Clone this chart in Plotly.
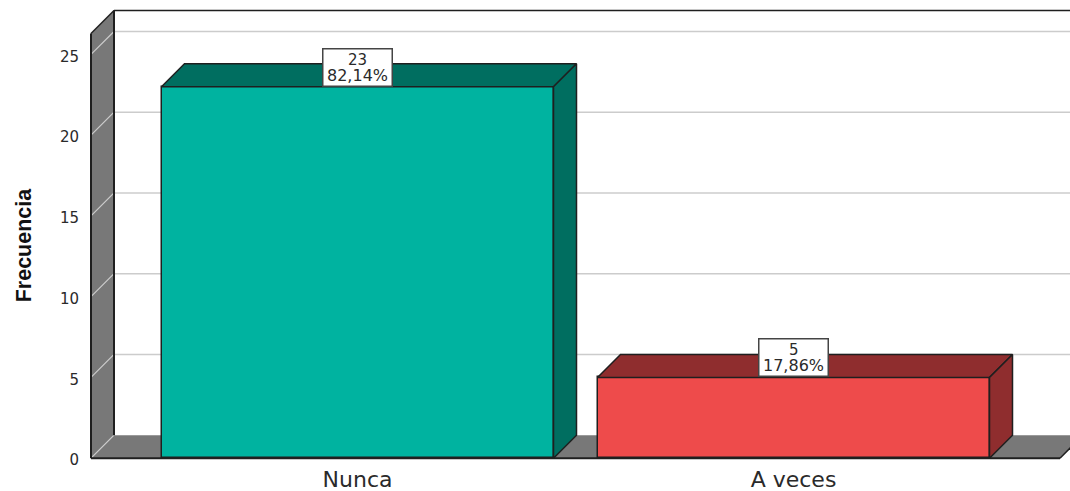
import plotly.graph_objects as go

categories = ["Nunca", "A veces"]
counts = [23, 5]
percent_labels = ["82,14%", "17,86%"]
y_ticks = [0, 5, 10, 15, 20, 25]
y_axis_title = "Frecuencia"

front_colors = ["#00B3A0", "#EE4B4B"]
side_colors = ["#006E60", "#8F2D2E"]
WALL = "#787878"
GRID = "#CCCCCC"
EDGE = "#1F1F1F"
TEXT = "#2A2A2A"

W, H = 1070, 491
unit_y = 16.16
unit_x = 436.0
base_px = 458.0
center0_px = 357.5
dx = 23 / unit_x
dy = 23 / unit_y
half = 196 / unit_x

# axis windows
y_lo, y_hi = -0.3, 28.0
plot_left = 84.0
x_lo = (plot_left - center0_px) / unit_x
x_hi = (W - center0_px) / unit_x
wall_x = (91 - center0_px) / unit_x
top_front = (base_px - 33) / unit_y
floor_end = (1060 - center0_px) / unit_x
m_top = base_px - y_hi * unit_y
m_bottom = H - (base_px - y_lo * unit_y)

def poly(xs, ys, fill, line=None, width=1.5):
    path = "M " + " L ".join(f"{a},{b}" for a, b in zip(xs, ys)) + " Z"
    return dict(type="path", path=path, xref="x", yref="y", layer="below",
                fillcolor=fill, line=dict(color=line or fill, width=width if line else 0))

def seg(x0, y0, x1, y1, color, width=1.5):
    return dict(type="line", x0=x0, y0=y0, x1=x1, y1=y1, xref="x", yref="y",
                layer="below", line=dict(color=color, width=width))

shapes = [
    # floor
    poly([wall_x, wall_x + dx, floor_end + dx, floor_end],
         [0, dy, dy, 0], WALL),
    # left wall
    poly([wall_x, wall_x + dx, wall_x + dx, wall_x],
         [0, dy, top_front + dy, top_front], WALL),
]
for t in y_ticks:
    shapes.append(seg(wall_x, t, wall_x + dx, t + dy, GRID, 1.2))
    if t > 0:
        shapes.append(seg(wall_x + dx, t + dy, x_hi, t + dy, GRID, 1.5))
shapes += [
    seg(wall_x, 0, wall_x, top_front, EDGE, 2),
    seg(wall_x + dx, dy, wall_x + dx, top_front + dy, EDGE, 2),
    seg(wall_x, top_front, wall_x + dx, top_front + dy, EDGE, 1.5),
    seg(wall_x + dx, top_front + dy, x_hi, top_front + dy, EDGE, 1.5),
    seg(wall_x, 0, floor_end, 0, EDGE, 2),
    seg(floor_end, 0, floor_end + dx, dy, EDGE, 1.5),
]

fig = go.Figure()
xs = list(range(len(categories)))
fig.add_trace(go.Bar(x=xs, y=counts, width=2 * half,
                     marker=dict(color=front_colors, line=dict(color=EDGE, width=1.5)),
                     hoverinfo="skip", showlegend=False))

for i, v in enumerate(counts):
    l, r = i - half, i + half
    fig.add_trace(go.Scatter(x=[l, l + dx, r + dx, r, l], y=[v, v + dy, v + dy, v, v],
                             mode="lines", fill="toself", fillcolor=side_colors[i],
                             line=dict(color=EDGE, width=1.5),
                             hoverinfo="skip", showlegend=False))
    fig.add_trace(go.Scatter(x=[r, r + dx, r + dx, r, r], y=[0, dy, v + dy, v, 0],
                             mode="lines", fill="toself", fillcolor=side_colors[i],
                             line=dict(color=EDGE, width=1.5),
                             hoverinfo="skip", showlegend=False))

annotations = []
for i, v in enumerate(counts):
    annotations.append(dict(x=i, y=v, xref="x", yref="y", text=" ", showarrow=False,
                            xanchor="center", yanchor="bottom", width=68, height=36, borderpad=0,
                            bgcolor="white", bordercolor="#444444", borderwidth=1.5,
                            font=dict(size=4), yshift=0))
    annotations.append(dict(x=i, y=v, xref="x", yref="y", text=str(v), showarrow=False,
                            xanchor="center", yanchor="bottom", yshift=16,
                            font=dict(family="DejaVu Sans", size=15, color=TEXT)))
    annotations.append(dict(x=i, y=v, xref="x", yref="y", text=percent_labels[i], showarrow=False,
                            xanchor="center", yanchor="bottom", yshift=0,
                            font=dict(family="DejaVu Sans", size=16, color=TEXT)))
plot_w = W - plot_left
plot_h = H - m_top - m_bottom
annotations.append(dict(x=(24 - plot_left) / plot_w, y=(H - m_bottom - 245) / plot_h,
                        xref="paper", yref="paper", text=f"<b>{y_axis_title}</b>",
                        showarrow=False, textangle=-90, xanchor="center", yanchor="middle",
                        font=dict(family="Liberation Sans", size=21.5, color="#111111")))

fig.update_layout(
    width=W, height=H, autosize=False,
    paper_bgcolor="white", plot_bgcolor="white",
    margin=dict(l=plot_left, r=0, t=m_top, b=m_bottom, pad=0, autoexpand=False),
    shapes=shapes, annotations=annotations, showlegend=False, bargap=0,
    xaxis=dict(range=[x_lo, x_hi], tickmode="array", tickvals=xs, ticktext=categories,
               automargin=False, ticklabelstandoff=-4,
               showgrid=False, zeroline=False, showline=False, ticks="outside", ticklen=1,
               tickcolor="white", tickfont=dict(family="DejaVu Sans", size=22, color=TEXT)),
    yaxis=dict(range=[y_lo, y_hi], tickmode="array", tickvals=y_ticks,
               automargin=False, ticklabelshift=2,
               showgrid=False, zeroline=False, showline=False, ticks="outside", ticklen=1,
               tickcolor="white", tickfont=dict(family="DejaVu Sans", size=15, color=TEXT)),
)
fig.write_html("out.html", config=dict(displayModeBar=False),
               post_script="document.body.style.margin='0';")
